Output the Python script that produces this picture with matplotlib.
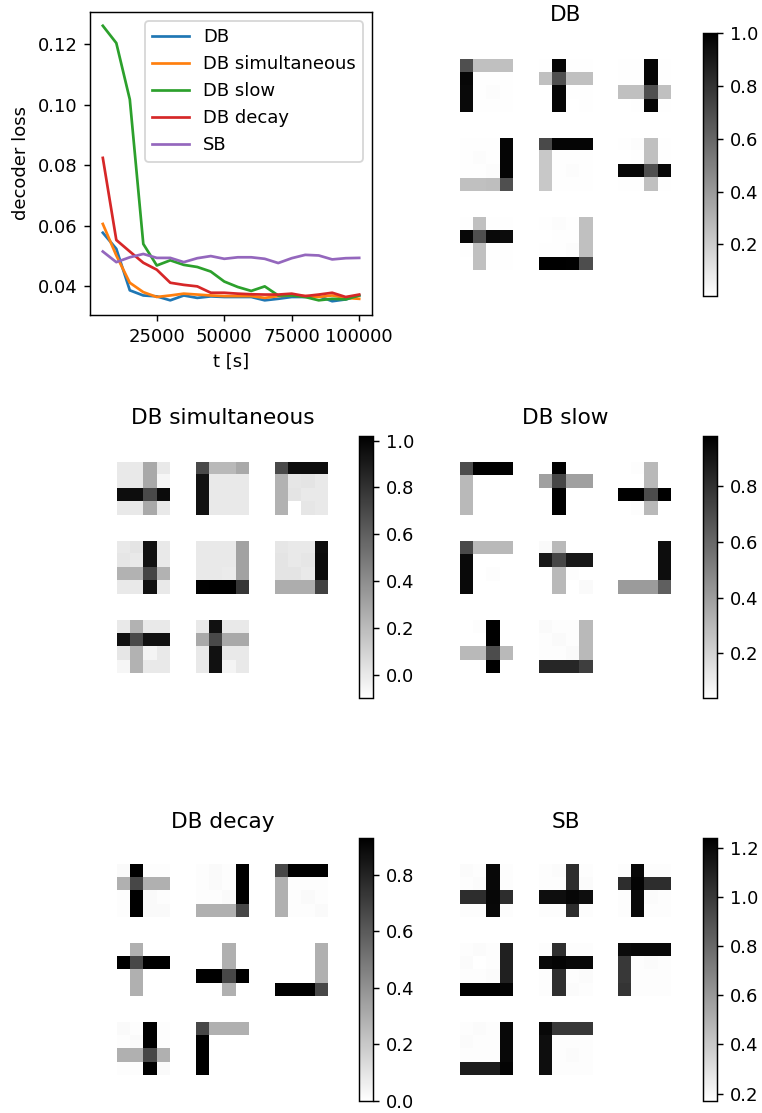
import matplotlib
matplotlib.use("Agg")
import matplotlib.pyplot as plt
import numpy as np

# ---- loss curves ----
t = [5000, 10000, 15000, 20000, 25000, 30000, 35000, 40000, 45000, 50000,
     55000, 60000, 65000, 70000, 75000, 80000, 85000, 90000, 95000, 100000]
loss_db = [0.0577, 0.0524, 0.0387, 0.0370, 0.0367, 0.0354, 0.0370, 0.0362, 0.0367, 0.0365,
           0.0365, 0.0365, 0.0354, 0.0359, 0.0365, 0.0365, 0.0368, 0.0351, 0.0357, 0.0370]
loss_db_sim = [0.0606, 0.0502, 0.0412, 0.0381, 0.0365, 0.0370, 0.0376, 0.0373, 0.0370, 0.0368,
               0.0368, 0.0368, 0.0362, 0.0368, 0.0370, 0.0368, 0.0365, 0.0370, 0.0362, 0.0359]
loss_db_slow = [0.1260, 0.1203, 0.1017, 0.0540, 0.0469, 0.0486, 0.0471, 0.0464, 0.0449, 0.0416,
                0.0398, 0.0385, 0.0400, 0.0370, 0.0370, 0.0365, 0.0354, 0.0359, 0.0357, 0.0370]
loss_db_decay = [0.0824, 0.0553, 0.0515, 0.0478, 0.0455, 0.0412, 0.0405, 0.0400, 0.0379, 0.0379,
                 0.0376, 0.0374, 0.0373, 0.0373, 0.0376, 0.0368, 0.0373, 0.0379, 0.0365, 0.0373]
loss_sb = [0.0515, 0.0480, 0.0496, 0.0507, 0.0494, 0.0494, 0.0480, 0.0493, 0.0500, 0.0491,
           0.0496, 0.0496, 0.0491, 0.0477, 0.0493, 0.0504, 0.0502, 0.0489, 0.0493, 0.0494]
series_names = ["DB", "DB simultaneous", "DB slow", "DB decay", "SB"]

# ---- learned 4x4 patches (8 per model) ----
db_patches = [
    [[0.69, 0.25, 0.25, 0.25], [0.97, 0.01, 0.01, 0.01], [0.96, 0.01, 0.02, 0.01], [0.96, 0.01, 0.01, 0.01]],
    [[0.01, 0.98, 0.01, 0.01], [0.25, 0.69, 0.25, 0.25], [0.005, 0.98, 0.01, 0.01], [0.005, 0.98, 0.005, 0.01]],
    [[0.01, 0.01, 0.98, 0.01], [0.01, 0.01, 0.98, 0.01], [0.25, 0.25, 0.69, 0.25], [0.005, 0.01, 0.98, 0.01]],
    [[0.01, 0.01, 0.01, 0.98], [0.01, 0.02, 0.01, 0.98], [0.01, 0.01, 0.02, 0.98], [0.25, 0.25, 0.26, 0.69]],
    [[0.71, 0.98, 0.98, 0.98], [0.22, 0.01, 0.01, 0.01], [0.22, 0.01, 0.02, 0.01], [0.22, 0.01, 0.01, 0.01]],
    [[0.01, 0.02, 0.25, 0.01], [0.005, 0.01, 0.25, 0.01], [0.97, 0.97, 0.69, 0.97], [0.01, 0.01, 0.25, 0.01]],
    [[0.01, 0.25, 0.01, 0.01], [0.97, 0.69, 0.96, 0.95], [0.01, 0.25, 0.01, 0.01], [0.005, 0.25, 0.01, 0.01]],
    [[0.01, 0.02, 0.01, 0.25], [0.005, 0.01, 0.01, 0.25], [0.01, 0.01, 0.02, 0.25], [1.00, 1.00, 0.99, 0.70]],
]
db_sim_patches = [
    [[0.00, 0.00, 0.28, 0.00], [0.00, 0.00, 0.28, -0.06], [0.96, 0.96, 0.70, 0.97], [0.00, 0.00, 0.28, 0.00]],
    [[0.70, 0.21, 0.21, 0.28], [0.94, 0.00, 0.00, 0.00], [0.94, 0.00, 0.00, 0.00], [0.94, 0.00, 0.00, 0.00]],
    [[0.70, 0.96, 0.96, 0.96], [0.24, 0.01, 0.02, 0.00], [0.24, 0.02, 0.00, 0.00], [0.24, -0.10, 0.01, 0.00]],
    [[0.00, 0.02, 0.94, 0.00], [0.01, 0.00, 0.94, 0.00], [0.24, 0.24, 0.72, 0.24], [0.00, 0.00, 0.94, 0.00]],
    [[0.00, 0.00, 0.00, 0.31], [0.00, 0.00, 0.00, 0.31], [0.00, 0.00, -0.01, 0.31], [1.01, 1.02, 1.02, 0.78]],
    [[0.01, 0.00, 0.00, 0.96], [0.02, 0.00, 0.01, 0.97], [0.02, 0.02, 0.00, 0.97], [0.26, 0.26, 0.26, 0.73]],
    [[0.00, 0.24, 0.00, 0.00], [0.94, 0.70, 0.94, 0.94], [0.01, 0.24, -0.05, 0.00], [-0.06, 0.24, 0.00, 0.00]],
    [[0.00, 0.94, 0.00, 0.00], [0.28, 0.70, 0.28, 0.28], [0.00, 0.94, 0.00, 0.00], [0.00, 0.94, -0.05, 0.00]],
]
db_slow_patches = [
    [[0.70, 0.98, 0.98, 0.97], [0.30, 0.04, 0.04, 0.04], [0.30, 0.04, 0.04, 0.04], [0.30, 0.04, 0.04, 0.04]],
    [[0.04, 0.98, 0.04, 0.04], [0.39, 0.72, 0.39, 0.39], [0.04, 0.98, 0.04, 0.04], [0.04, 0.98, 0.04, 0.04]],
    [[0.04, 0.05, 0.30, 0.04], [0.04, 0.04, 0.30, 0.04], [0.98, 0.98, 0.70, 0.98], [0.04, 0.05, 0.30, 0.04]],
    [[0.71, 0.30, 0.30, 0.30], [0.94, 0.04, 0.04, 0.04], [0.94, 0.04, 0.05, 0.04], [0.94, 0.04, 0.04, 0.04]],
    [[0.06, 0.30, 0.04, 0.04], [0.89, 0.72, 0.89, 0.89], [0.04, 0.30, 0.05, 0.04], [0.04, 0.30, 0.04, 0.06]],
    [[0.04, 0.04, 0.04, 0.93], [0.04, 0.04, 0.04, 0.93], [0.04, 0.04, 0.04, 0.93], [0.41, 0.41, 0.41, 0.63]],
    [[0.04, 0.05, 0.98, 0.04], [0.04, 0.04, 0.98, 0.04], [0.30, 0.30, 0.70, 0.30], [0.04, 0.04, 0.98, 0.04]],
    [[0.06, 0.05, 0.05, 0.30], [0.05, 0.06, 0.05, 0.30], [0.05, 0.05, 0.06, 0.30], [0.84, 0.84, 0.84, 0.75]],
]
db_decay_patches = [
    [[0.02, 0.93, 0.01, 0.01], [0.29, 0.67, 0.29, 0.29], [0.01, 0.93, 0.02, 0.01], [0.01, 0.93, 0.02, 0.02]],
    [[0.01, 0.02, 0.01, 0.93], [0.01, 0.02, 0.01, 0.93], [0.01, 0.01, 0.02, 0.93], [0.29, 0.29, 0.29, 0.67]],
    [[0.67, 0.93, 0.93, 0.93], [0.29, 0.01, 0.01, 0.01], [0.29, 0.01, 0.02, 0.01], [0.29, 0.01, 0.01, 0.02]],
    [[0.00, 0.29, 0.00, 0.00], [0.93, 0.67, 0.93, 0.93], [0.00, 0.29, 0.00, 0.00], [0.00, 0.29, 0.00, 0.00]],
    [[0.00, 0.00, 0.29, 0.00], [0.00, 0.00, 0.29, 0.00], [0.93, 0.93, 0.67, 0.93], [0.00, 0.00, 0.29, 0.00]],
    [[0.00, 0.00, 0.00, 0.29], [0.00, 0.00, 0.00, 0.29], [0.00, 0.00, 0.00, 0.29], [0.93, 0.93, 0.93, 0.67]],
    [[0.02, 0.01, 0.93, 0.01], [0.01, 0.02, 0.93, 0.01], [0.29, 0.29, 0.67, 0.29], [0.01, 0.01, 0.93, 0.02]],
    [[0.67, 0.29, 0.29, 0.29], [0.93, 0.00, 0.00, 0.00], [0.93, 0.00, 0.00, 0.00], [0.93, 0.00, 0.00, 0.00]],
]
sb_patches = [
    [[0.19, 0.18, 1.20, 0.18], [0.18, 0.19, 1.20, 0.18], [1.05, 1.05, 1.21, 1.05], [0.18, 0.18, 1.20, 0.18]],
    [[0.18, 0.19, 1.05, 0.18], [0.18, 0.18, 1.05, 0.19], [1.18, 1.18, 1.21, 1.18], [0.18, 0.18, 1.05, 0.18]],
    [[0.18, 1.20, 0.18, 0.18], [1.05, 1.22, 1.05, 1.05], [0.18, 1.20, 0.19, 0.18], [0.18, 1.20, 0.18, 0.18]],
    [[0.18, 0.19, 0.18, 1.10], [0.19, 0.17, 0.18, 1.10], [0.18, 0.18, 0.19, 1.10], [1.24, 1.24, 1.24, 1.22]],
    [[0.18, 1.04, 0.18, 0.18], [1.20, 1.22, 1.20, 1.20], [0.18, 1.04, 0.18, 0.19], [0.18, 1.04, 0.19, 0.18]],
    [[1.19, 1.20, 1.20, 1.20], [1.00, 0.18, 0.19, 0.18], [1.00, 0.18, 0.18, 0.18], [1.02, 0.18, 0.18, 0.18]],
    [[0.18, 0.19, 0.18, 1.20], [0.19, 0.18, 0.18, 1.20], [0.18, 0.18, 0.18, 1.20], [1.12, 1.12, 1.12, 1.22]],
    [[1.20, 1.00, 1.00, 1.00], [1.18, 0.18, 0.18, 0.18], [1.18, 0.18, 0.19, 0.18], [1.18, 0.18, 0.18, 0.18]],
]

W, H = 762, 1113
DPI = 130
fig = plt.figure(figsize=(W / DPI, H / DPI), dpi=DPI)


def px_axes(x0, y0, x1, y1):
    # place an axes with pixel coordinates measured from the top-left corner
    return fig.add_axes([x0 / W, 1 - y1 / H, (x1 - x0) / W, (y1 - y0) / H])


# loss plot
ax = px_axes(90, 12, 372, 315)
for name, vals in zip(series_names, [loss_db, loss_db_sim, loss_db_slow, loss_db_decay, loss_sb]):
    ax.plot(t, vals, label=name)
ax.set_xticks([25000, 50000, 75000, 100000])
ax.set_xlabel("t [s]")
ax.set_ylabel("decoder loss")
ax.legend(loc="upper right")

# patch panels: (title, data, first image x, first image y, colorbar x, colorbar top, colorbar bottom, title y)
panels = [
    ("DB", db_patches, 460, 59, 703, 33, 296, 15),
    ("DB simultaneous", db_sim_patches, 117, 462, 359, 436, 698, 418),
    ("DB slow", db_slow_patches, 460, 462, 703, 436, 698, 418),
    ("DB decay", db_decay_patches, 117, 864, 359, 838, 1101, 822),
    ("SB", sb_patches, 460, 864, 703, 838, 1101, 822),
]
size, step = 53, 79

for title, patches, ix, iy, cx, ctop, cbot, ty in panels:
    arr = np.array(patches)
    vmin, vmax = arr.min(), arr.max()
    im = None
    for k in range(9):
        r, c = divmod(k, 3)
        a = px_axes(ix + c * step, iy + r * step, ix + c * step + size, iy + r * step + size)
        a.axis("off")
        if k < len(patches):
            im = a.imshow(arr[k], cmap="gray_r", vmin=vmin, vmax=vmax)
    fig.text((ix + step + size / 2) / W, 1 - ty / H, title,
             ha="center", va="center", fontsize=12)
    cax = px_axes(cx, ctop, cx + 14, cbot)
    fig.colorbar(im, cax=cax)

fig.savefig("out.png", dpi=DPI)
